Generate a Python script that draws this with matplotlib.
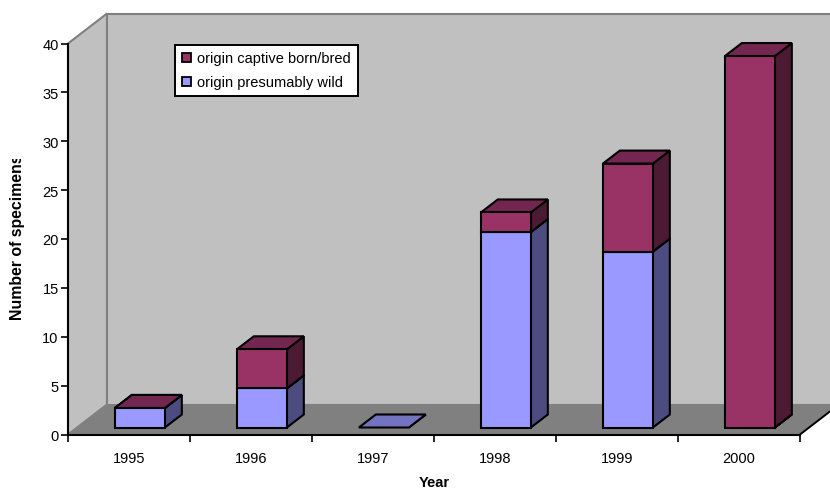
import matplotlib
matplotlib.use("Agg")
import matplotlib.pyplot as plt
from matplotlib.patches import Polygon, Patch
from matplotlib.transforms import Bbox

plt.rcParams['font.family'] = ['Liberation Sans', 'DejaVu Sans']

years = ['1995', '1996', '1997', '1998', '1999', '2000']
wild = [2, 4, 0, 20, 18, 0]
# 1997 has nothing in this series, so its floor cap stays the wild colour
captive = [0, 4, None, 2, 9, 38]
y_ticks = [0, 5, 10, 15, 20, 25, 30, 35, 40]

wild_cols = ('#9999FF', '#4C4C80', '#7373BF')
captive_cols = ('#993366', '#4D1A33', '#732650')

W, H = 830, 489
fig = plt.figure(figsize=(W / 100, H / 100), dpi=100)
ax = fig.add_axes([68 / W, 1 - 435.5 / H, 732 / W, 391 / H])
ax.set_xlim(0, 6)
ax.set_ylim(0, 40)
ax.patch.set_visible(False)

# depth of the fake 3d box, in data units
DX = 39 / 122
DY = 30 / 9.775
BAR_W = 50 / 122
BAR_X = 0.31


def pt(x, y, d=0.0):
    # d: 0 is the front plane, 1 the back wall
    return (x + DX * d, y + DY * d)


def poly(points, face, edge='none', lw=0, z=1):
    ax.add_patch(Polygon(points, closed=True, facecolor=face, edgecolor=edge,
                         linewidth=lw, zorder=z, clip_on=False, joinstyle='miter'))


def draw_walls():
    poly([pt(0, 0), pt(0, 40), pt(0, 40, 1), pt(0, 0, 1)], '#C0C0C0', '#808080', 1.5, z=1)
    poly([pt(0, 0, 1), pt(0, 40, 1), pt(6, 40, 1), pt(6, 0, 1)], '#C0C0C0', '#808080', 1.5, z=1)
    poly([pt(0, 0), pt(0, 0, 1), pt(6, 0, 1), pt(6, 0)], '#808080', z=1.5)
    ax.plot(*zip(pt(6, 0), pt(6, 0, 1)), color='black', lw=1.4, zorder=2, clip_on=False)


def draw_box(i, low, high, cols, z):
    x0 = i + BAR_X
    x1 = x0 + BAR_W
    d0, d1 = 7 / 30, 20 / 30
    kw = dict(edge='black', lw=1.5, z=z)
    poly([pt(x1, low, d0), pt(x1, low, d1), pt(x1, high, d1), pt(x1, high, d0)], cols[1], **kw)
    poly([pt(x0, high, d0), pt(x1, high, d0), pt(x1, high, d1), pt(x0, high, d1)], cols[2], **kw)
    if high > low:
        poly([pt(x0, low, d0), pt(x1, low, d0), pt(x1, high, d0), pt(x0, high, d0)], cols[0], **kw)


draw_walls()
for i in range(len(years)):
    z = 3 + i
    draw_box(i, 0, wild[i], wild_cols, z)
    if captive[i] is not None:
        draw_box(i, wild[i], wild[i] + captive[i], captive_cols, z + 0.5)

for side in ('top', 'right'):
    ax.spines[side].set_visible(False)
for side in ('left', 'bottom'):
    ax.spines[side].set_linewidth(1.5)
    ax.spines[side].set_zorder(2.5)

ax.set_yticks(y_ticks)
ax.set_xticks(range(7), labels=[])
ax.set_xticks([i + 0.5 for i in range(6)], labels=years, minor=True)
ax.tick_params(axis='both', which='major', length=5.2, width=1.2, labelsize=10.5, pad=1.5)
ax.tick_params(axis='x', which='minor', length=0, labelsize=10.5, pad=12)
ax.set_xlabel('Year', fontsize=10.5, fontweight='bold', labelpad=6.8)

# the long label runs off the top of its slot in the original, last letter is cut
ylab = ax.set_ylabel('Number of specimens', fontsize=11.4, fontweight='bold')
ax.yaxis.set_label_coords((25 - 68) / 732, (435.5 - 237.5) / 391)
ylab.set_clip_on(True)
ylab.set_clip_box(Bbox([[0, 0], [40, H - 160]]))

handles = [Patch(facecolor=captive_cols[0], edgecolor='black', linewidth=1.3),
           Patch(facecolor=wild_cols[0], edgecolor='black', linewidth=1.3)]
leg = ax.legend(handles, ['origin captive born/bred', 'origin presumably wild'],
                loc='upper left', bbox_to_anchor=((175 - 68) / 732, 1 - 1 / 391),
                fontsize=10.5, frameon=True, fancybox=False, framealpha=1,
                edgecolor='black', borderaxespad=0, handlelength=0.62, handleheight=0.62,
                handletextpad=0.42, labelspacing=0.68, borderpad=0.48)
leg.get_frame().set_linewidth(1.4)
leg.set_zorder(20)

fig.savefig('out.png', dpi=100)
